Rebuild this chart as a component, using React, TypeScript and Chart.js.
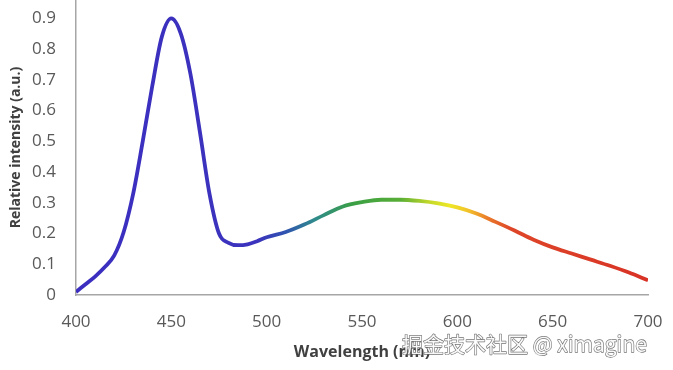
import React, { useEffect, useRef } from "react";
import { Chart, registerables } from "chart.js";

Chart.register(...registerables);

const wavelengths = [
  400, 405, 410, 415, 420, 425, 430, 435, 440, 445, 450, 455, 460, 465, 470, 475,
  480, 485, 490, 495, 500, 510, 520, 530, 540, 550, 560, 570, 580, 590, 600, 610,
  620, 630, 640, 650, 660, 670, 680, 690, 700,
];
const intensity = [
  0.01, 0.035, 0.06, 0.09, 0.128, 0.205, 0.33, 0.5, 0.68, 0.84, 0.9, 0.85, 0.72,
  0.53, 0.33, 0.2, 0.17, 0.162, 0.165, 0.175, 0.188, 0.205, 0.23, 0.26, 0.288,
  0.302, 0.31, 0.31, 0.306, 0.298, 0.285, 0.265, 0.238, 0.21, 0.18, 0.155, 0.135,
  0.115, 0.095, 0.073, 0.048,
];
const xTicks = [400, 450, 500, 550, 600, 650, 700];
const yTicks = [0, 0.1, 0.2, 0.3, 0.4, 0.5, 0.6, 0.7, 0.8, 0.9];
const colorStops: [number, string][] = [
  [400, "#3b2ec0"],
  [495, "#3b33bd"],
  [510, "#3054b0"],
  [525, "#2f8a8c"],
  [545, "#3a9f45"],
  [570, "#58ae36"],
  [585, "#c2d82a"],
  [596, "#eee826"],
  [606, "#f2c02a"],
  [616, "#ea7a2a"],
  [628, "#de4628"],
  [700, "#d83226"],
];
const xTitle = "Wavelength (nm)";
const yTitle = "Relative intensity (a.u.)";
const watermark = "掘金技术社区 @ ximagine";

const FONT = "'Open Sans', 'DejaVu Sans', sans-serif";

export default function App() {
  const ref = useRef<HTMLCanvasElement | null>(null);

  useEffect(() => {
    if (!ref.current) return;
    const watermarkPlugin = {
      id: "watermark",
      afterDraw(chart: any) {
        const ctx = chart.ctx;
        ctx.save();
        ctx.font = "21px 'Noto Sans CJK SC', sans-serif";
        ctx.textBaseline = "middle";
        ctx.textAlign = "left";
        ctx.lineJoin = "round";
        ctx.strokeStyle = "rgba(90,90,90,0.85)";
        ctx.lineWidth = 1.3;
        ctx.strokeText(watermark, 402, 344);
        ctx.fillStyle = "rgba(255,255,255,0.95)";
        ctx.fillText(watermark, 402, 344);
        ctx.restore();
      },
    };

    const chart = new Chart(ref.current, {
      type: "line",
      data: {
        datasets: [
          {
            data: wavelengths.map((w, i) => ({ x: w, y: intensity[i] })),
            borderColor: (c: any) => {
              const { chart } = c;
              const area = chart.chartArea;
              if (!area) return colorStops[0][1];
              const xs = chart.scales.x;
              const x0 = xs.getPixelForValue(400);
              const x1 = xs.getPixelForValue(700);
              const g = chart.ctx.createLinearGradient(x0, 0, x1, 0);
              colorStops.forEach(([w, col]) => g.addColorStop((w - 400) / 300, col));
              return g;
            },
            borderWidth: 3.8,
            pointRadius: 0,
            cubicInterpolationMode: "monotone",
            fill: false,
          },
        ],
      },
      options: {
        animation: false,
        responsive: true,
        maintainAspectRatio: false,
        layout: { padding: { left: 0, right: 25, top: 0, bottom: 0 } },
        plugins: { legend: { display: false }, tooltip: { enabled: false } },
        scales: {
          x: {
            type: "linear",
            min: 400,
            max: 700,
            afterBuildTicks: (s: any) => {
              s.ticks = xTicks.map((v) => ({ value: v }));
            },
            afterFit: (s: any) => {
              s.height = 75;
              s.paddingLeft = 0;
              s.paddingRight = 0;
            },
            grid: { display: false, drawTicks: false },
            border: { display: true, color: "#a6a6a6", width: 1.5 },
            ticks: {
              padding: 17,
              color: "#595959",
              font: { family: FONT, size: 17 },
              maxRotation: 0,
              callback: (v: any) => String(v),
            },
            title: {
              display: true,
              text: xTitle,
              color: "#404040",
              font: { family: FONT, size: 16, weight: "bold" },
              padding: { top: 4, bottom: 8 },
            },
          },
          y: {
            type: "linear",
            min: 0,
            max: 0.96,
            afterBuildTicks: (s: any) => {
              s.ticks = yTicks.map((v) => ({ value: v }));
            },
            afterFit: (s: any) => {
              s.width = 76;
              s.paddingTop = 0;
              s.paddingBottom = 0;
            },
            grid: { display: false, drawTicks: false },
            border: { display: true, color: "#a6a6a6", width: 1.5 },
            ticks: {
              padding: 20,
              color: "#595959",
              font: { family: FONT, size: 17 },
              callback: (v: any) => (Math.round(Number(v) * 10) / 10).toString(),
            },
            title: {
              display: true,
              text: yTitle,
              color: "#404040",
              font: { family: FONT, size: 14, weight: "bold" },
              padding: { top: 8, bottom: 4 },
            },
          },
        },
      },
      plugins: [watermarkPlugin],
    } as any);
    return () => chart.destroy();
  }, []);

  return (
    <div style={{ position: "fixed", left: 0, top: 0, width: 673, height: 370, background: "#fff" }}>
      <canvas ref={ref} />
    </div>
  );
}
